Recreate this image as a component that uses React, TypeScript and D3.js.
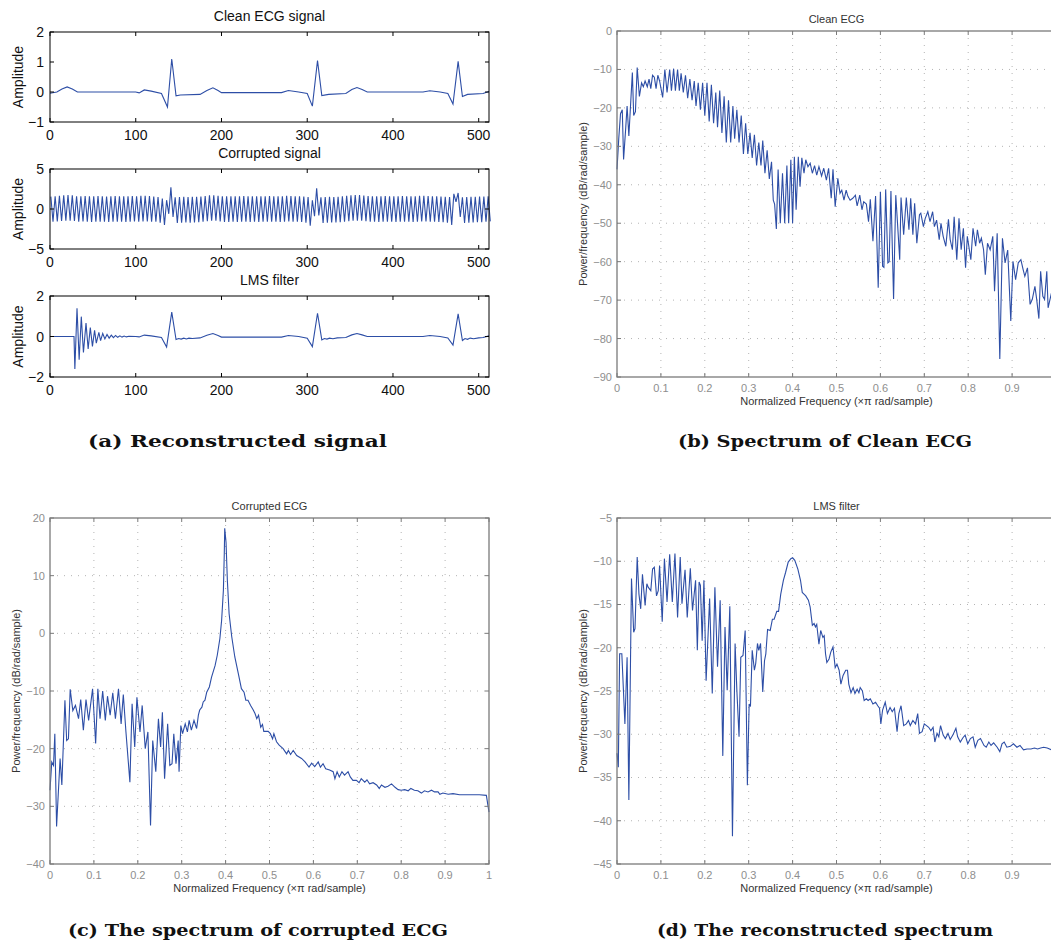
import React, { useEffect, useRef } from 'react';
import * as d3 from 'd3';

// ---------------- DATA ----------------
// (a) time-domain signals, sample index 0..512
const sampleTicks = [0, 100, 200, 300, 400, 500];

const cleanEcg: [number, number][] = [
  [0, -0.04], [8, 0.0], [14, 0.1], [20, 0.17], [26, 0.1], [32, 0.0], [100, 0.0], [104, -0.03], [110, 0.07], [118, 0.03],
  [130, -0.05], [137, -0.5], [142, 1.1], [147, -0.13], [152, -0.1], [175, -0.08], [183, 0.05], [190, 0.14], [196, 0.05],
  [200, -0.02], [270, -0.02], [278, 0.05], [290, 0.0], [300, -0.05], [306, -0.47], [312, 1.05], [317, -0.12], [325, -0.08],
  [345, -0.05], [352, 0.08], [358, 0.15], [364, 0.08], [370, 0.0], [435, 0.0], [443, 0.04], [455, 0.0], [464, -0.05],
  [470, -0.4], [476, 1.02], [481, -0.15], [487, -0.08], [505, -0.05], [512, 0.02],
];

// corrupted signal: successive half-cycle extrema, one every 2.5 samples starting at sample 1
const corruptedStart = 1;
const corruptedStep = 2.5;
const corruptedExtrema = [
  1.55, -1.6, 1.6, -1.55, 1.65, -1.5, 1.7, -1.45, 1.75, -1.45,
  1.7, -1.5, 1.6, -1.6, 1.6, -1.55, 1.62, -1.6, 1.58, -1.62,
  1.6, -1.6, 1.63, -1.58, 1.6, -1.6, 1.57, -1.63, 1.6, -1.6,
  1.62, -1.58, 1.6, -1.6, 1.58, -1.62, 1.6, -1.6, 1.63, -1.57,
  1.6, -1.6, 1.65, -1.55, 1.66, -1.55, 1.62, -1.58, 1.55, -1.6,
  1.5, -1.7, 1.3, -2.0, 1.1, -0.6, 2.7, -1.0, 1.45, -1.75,
  1.5, -1.7, 1.52, -1.68, 1.5, -1.7, 1.53, -1.68, 1.52, -1.66,
  1.55, -1.6, 1.62, -1.52, 1.7, -1.46, 1.72, -1.47, 1.65, -1.55,
  1.6, -1.62, 1.58, -1.62, 1.6, -1.6, 1.58, -1.62, 1.6, -1.6,
  1.62, -1.6, 1.58, -1.62, 1.6, -1.6, 1.6, -1.62, 1.58, -1.6,
  1.6, -1.6, 1.62, -1.58, 1.6, -1.6, 1.58, -1.62, 1.6, -1.58,
  1.65, -1.55, 1.63, -1.58, 1.6, -1.6, 1.58, -1.62, 1.55, -1.7,
  1.5, -2.1, 1.1, -0.9, 2.6, -0.8, 1.45, -1.75, 1.5, -1.7,
  1.52, -1.68, 1.5, -1.67, 1.54, -1.66, 1.58, -1.6, 1.65, -1.52,
  1.72, -1.47, 1.75, -1.45, 1.74, -1.47, 1.68, -1.52, 1.62, -1.58,
  1.6, -1.6, 1.58, -1.62, 1.6, -1.6, 1.62, -1.58, 1.6, -1.6,
  1.58, -1.62, 1.6, -1.6, 1.62, -1.6, 1.6, -1.58, 1.6, -1.62,
  1.58, -1.6, 1.64, -1.56, 1.65, -1.56, 1.62, -1.6, 1.6, -1.6,
  1.58, -1.62, 1.55, -1.65, 1.52, -1.7, 1.5, -2.0, 1.9, 0.9,
  2.0, -1.0, 1.45, -1.75, 1.5, -1.7, 1.52, -1.68, 1.52, -1.66,
  1.55, -1.65, 1.55, -1.6, 1.6, -1.55,
];

const lmsOutput: [number, number][] = [
  [0, 0], [28, 0], [29, -1.6], [31.5, 1.4], [34, -1.15], [36.5, 0.98], [39, -0.79], [42, 0.66], [44.5, -0.62], [47, 0.44],
  [49.5, -0.49], [52, 0.3], [54, -0.33], [57, 0.2], [59, -0.2], [61.5, 0.15], [64, -0.12], [66.5, 0.1], [69, -0.08],
  [71.5, 0.07], [74, -0.06], [76.5, 0.05], [79, -0.04], [81.5, 0.03], [84, -0.03], [86.5, 0.02], [89, -0.02], [92, 0.01],
  [100, 0], [104, -0.02], [110, 0.07], [118, 0.03], [130, -0.05], [136, -0.52], [142, 1.2], [147, -0.15], [150, -0.1],
  [153, -0.13], [156, -0.08], [159, -0.12], [162, -0.08], [166, -0.1], [175, -0.07], [183, 0.06], [190, 0.15], [196, 0.05],
  [200, -0.03], [270, -0.03], [278, 0.05], [290, 0], [300, -0.08], [306, -0.5], [312, 1.15], [317, -0.17], [320, -0.1],
  [323, -0.13], [326, -0.08], [330, -0.11], [335, -0.07], [345, -0.05], [352, 0.08], [358, 0.15], [364, 0.08], [370, 0],
  [435, 0], [443, 0.05], [455, 0], [464, -0.07], [470, -0.42], [476, 1.12], [481, -0.2], [484, -0.1], [487, -0.14],
  [490, -0.08], [494, -0.11], [500, -0.07], [505, -0.05], [512, 0.03],
];

// spectra: [normalized frequency (x pi rad/sample), dB/rad/sample]
const freqTicks = [0, 0.1, 0.2, 0.3, 0.4, 0.5, 0.6, 0.7, 0.8, 0.9, 1];

const cleanSpectrum: [number, number][] = [
  [0, -36], [0.004, -28], [0.008, -21.5], [0.012, -20.5], [0.015, -33.4], [0.02, -25], [0.023, -19.5], [0.027, -27.3],
  [0.035, -10.8], [0.038, -22], [0.042, -21], [0.046, -9.5], [0.051, -17], [0.056, -13.5], [0.06, -14.5], [0.064, -13],
  [0.069, -14.5], [0.073, -12.5], [0.077, -15], [0.081, -11.5], [0.085, -12], [0.089, -15], [0.093, -11.5], [0.097, -13],
  [0.104, -17.3], [0.109, -10], [0.114, -16], [0.12, -10], [0.124, -15.5], [0.129, -9.8], [0.133, -15.5], [0.138, -10],
  [0.142, -15.5], [0.146, -11], [0.151, -16], [0.156, -11.5], [0.161, -17.5], [0.166, -12.5], [0.171, -18], [0.176, -13],
  [0.18, -19.5], [0.185, -13.5], [0.19, -20.5], [0.195, -13.5], [0.2, -22], [0.205, -13.5], [0.21, -23.5], [0.215, -14],
  [0.22, -24], [0.225, -16], [0.229, -25], [0.234, -15.5], [0.239, -26.5], [0.244, -17], [0.249, -29], [0.254, -18],
  [0.259, -29], [0.264, -19.5], [0.268, -28], [0.273, -20.5], [0.278, -29], [0.283, -22], [0.288, -32], [0.293, -24],
  [0.298, -32], [0.303, -26.5], [0.308, -33], [0.313, -27], [0.318, -35], [0.323, -29], [0.328, -35], [0.332, -28.5],
  [0.337, -37], [0.342, -31], [0.347, -38.5], [0.352, -34], [0.356, -44], [0.359, -45], [0.363, -51.5], [0.367, -36],
  [0.372, -50], [0.377, -37], [0.382, -50], [0.387, -35], [0.391, -50], [0.396, -33.5], [0.4, -50], [0.404, -32.7],
  [0.408, -46.5], [0.413, -32.7], [0.417, -40.5], [0.421, -33], [0.426, -37], [0.43, -33.5], [0.435, -35.3], [0.44, -34.4],
  [0.445, -37], [0.45, -35], [0.455, -37.5], [0.46, -35.3], [0.466, -37.7], [0.471, -35.7], [0.477, -38.8], [0.482, -35.7],
  [0.488, -43.5], [0.492, -36], [0.497, -45.7], [0.503, -38.3], [0.508, -42.2], [0.512, -41.4], [0.517, -44], [0.522, -41.4],
  [0.526, -43], [0.531, -44], [0.537, -43.5], [0.543, -42.7], [0.547, -45.5], [0.553, -42.7], [0.558, -46.5], [0.562, -44.4],
  [0.568, -45], [0.573, -49.6], [0.577, -43.8], [0.583, -54.7], [0.589, -42.9], [0.595, -66.8], [0.6, -41.8], [0.605, -61.2],
  [0.608, -61.5], [0.612, -41.2], [0.617, -60.3], [0.62, -60], [0.624, -41.6], [0.63, -69.7], [0.635, -42.7], [0.639, -50],
  [0.644, -59.5], [0.647, -43.3], [0.653, -53], [0.659, -43.3], [0.665, -51.7], [0.669, -43.5], [0.674, -53], [0.678, -44.8],
  [0.683, -55.2], [0.689, -47.8], [0.692, -47.4], [0.698, -50.9], [0.702, -48.8], [0.708, -47], [0.713, -49.6], [0.719, -47],
  [0.723, -50.9], [0.728, -49.2], [0.734, -54.3], [0.738, -50], [0.743, -53.4], [0.749, -56], [0.755, -49], [0.759, -54.3],
  [0.764, -56.9], [0.768, -48.3], [0.774, -59.5], [0.779, -48.7], [0.784, -56.9], [0.789, -51.3], [0.794, -61.6], [0.798, -53.4],
  [0.806, -59.5], [0.811, -51.3], [0.817, -56], [0.821, -51.7], [0.826, -55.2], [0.83, -53.9], [0.835, -56.9], [0.839, -63.4],
  [0.844, -55.2], [0.85, -56.9], [0.856, -53.4], [0.86, -67.7], [0.866, -52.6], [0.872, -85.3], [0.878, -53.9], [0.884, -60.3],
  [0.89, -57], [0.897, -75.4], [0.902, -59.9], [0.908, -64.7], [0.914, -60.3], [0.92, -59.5], [0.925, -62], [0.929, -63.8],
  [0.935, -61.6], [0.941, -71.1], [0.946, -69.8], [0.952, -66.4], [0.956, -69.8], [0.961, -74.8], [0.965, -62.5], [0.97, -69],
  [0.974, -69.8], [0.979, -62.5], [0.982, -72], [0.99, -68], [1, -70],
];

const corruptedSpectrum: [number, number][] = [
  [0, -27.2], [0.004, -22.3], [0.008, -22.9], [0.011, -17.4], [0.015, -33.5], [0.023, -21.7], [0.027, -26.3], [0.034, -11.6],
  [0.038, -18.6], [0.042, -18.3], [0.046, -9.7], [0.052, -13.4], [0.058, -12.5], [0.065, -14.8], [0.07, -11.5], [0.076, -16.8],
  [0.082, -11.5], [0.088, -15.1], [0.097, -9.6], [0.104, -19.1], [0.109, -9.6], [0.114, -14.8], [0.12, -10], [0.126, -15.1],
  [0.131, -10.9], [0.137, -14.2], [0.143, -10.3], [0.149, -14.8], [0.156, -9.6], [0.162, -15.7], [0.167, -10.6], [0.173, -17.1],
  [0.182, -25.8], [0.187, -12.2], [0.193, -19.7], [0.198, -11.1], [0.205, -17.1], [0.21, -12.5], [0.217, -20], [0.223, -17.1],
  [0.229, -33.3], [0.234, -18.6], [0.241, -24], [0.247, -14.8], [0.252, -19.7], [0.256, -13.7], [0.261, -25.2], [0.268, -15.7],
  [0.273, -22.9], [0.278, -22.6], [0.282, -17.4], [0.287, -22.6], [0.292, -18.6], [0.294, -24], [0.298, -16], [0.302, -17.4],
  [0.308, -15.7], [0.313, -17.1], [0.317, -15.1], [0.322, -16.8], [0.328, -15.1], [0.334, -16.5], [0.338, -14.2], [0.341, -13.3],
  [0.346, -12.8], [0.349, -11.9], [0.353, -11.6], [0.357, -10.2], [0.363, -9.3], [0.368, -7.6], [0.376, -5.6], [0.381, -3.8],
  [0.387, -0.9], [0.391, 2.3], [0.395, 7.5], [0.397, 13.8], [0.398, 18.2], [0.401, 15.8], [0.404, 9.2], [0.408, 3.4],
  [0.414, -0.6], [0.421, -4.1], [0.429, -7], [0.436, -9.6], [0.442, -10.2], [0.446, -11.6], [0.451, -11.6], [0.457, -12.5],
  [0.463, -13.3], [0.467, -13.9], [0.471, -14.8], [0.475, -14.2], [0.48, -16.3], [0.484, -15.8], [0.487, -17], [0.497, -17],
  [0.502, -17.4], [0.507, -18.3], [0.51, -17.4], [0.516, -18.8], [0.522, -19.4], [0.531, -20], [0.539, -20.9], [0.543, -20.3],
  [0.548, -21], [0.554, -20.3], [0.562, -21.2], [0.573, -21.7], [0.581, -22.3], [0.59, -23.2], [0.596, -22.5], [0.603, -23.1],
  [0.611, -22.3], [0.616, -23.2], [0.622, -22.6], [0.628, -23.5], [0.637, -23.7], [0.645, -24], [0.649, -25.2], [0.654, -24],
  [0.659, -24.9], [0.665, -24], [0.671, -24.6], [0.679, -24], [0.684, -24.9], [0.69, -25.5], [0.698, -25.5], [0.704, -25.9],
  [0.709, -25.2], [0.717, -25.8], [0.722, -25.4], [0.728, -26.1], [0.736, -25.9], [0.744, -26.3], [0.75, -26.9], [0.755, -26.3],
  [0.763, -26.7], [0.77, -26.5], [0.778, -26.1], [0.786, -26.7], [0.793, -27.1], [0.8, -27.2], [0.808, -27.1], [0.816, -27.3],
  [0.822, -26.9], [0.83, -27.2], [0.838, -27.3], [0.846, -27.7], [0.853, -27.3], [0.861, -27.5], [0.869, -27.2], [0.876, -27.5],
  [0.884, -27.5], [0.888, -27.9], [0.895, -27.7], [0.907, -27.9], [0.918, -27.8], [0.933, -28], [0.948, -28], [0.963, -28],
  [0.978, -28], [0.994, -28.1], [1, -31],
];

const lmsSpectrum: [number, number][] = [
  [0, -32.2], [0.003, -33.8], [0.006, -20.7], [0.011, -20.7], [0.018, -28.8], [0.023, -21.1], [0.027, -37.6], [0.033, -12],
  [0.038, -18.2], [0.041, -17.8], [0.046, -9.5], [0.05, -13.8], [0.054, -15.5], [0.058, -11.5], [0.064, -15.1], [0.068, -12.6],
  [0.071, -13], [0.077, -13.4], [0.081, -10.9], [0.085, -10.7], [0.09, -14], [0.094, -13.4], [0.097, -10.5], [0.103, -17],
  [0.108, -9.7], [0.114, -14.7], [0.12, -9.2], [0.126, -14.7], [0.132, -9.1], [0.138, -16.5], [0.144, -9.5], [0.148, -14.9],
  [0.155, -11], [0.16, -16.5], [0.167, -10.8], [0.172, -15.7], [0.179, -12.2], [0.183, -20.3], [0.187, -12.4], [0.19, -12.8],
  [0.194, -19.2], [0.198, -12.2], [0.203, -23.8], [0.211, -14.3], [0.217, -25.3], [0.223, -13], [0.229, -22.2], [0.235, -14.5],
  [0.241, -32.5], [0.246, -17.6], [0.251, -24.9], [0.257, -15.2], [0.263, -41.8], [0.269, -19.5], [0.273, -24.9], [0.278, -30.3],
  [0.282, -21.1], [0.287, -20.9], [0.292, -18], [0.297, -35.9], [0.301, -26.5], [0.304, -26.8], [0.308, -20.3], [0.313, -22.6],
  [0.316, -21.8], [0.32, -19.5], [0.323, -20.3], [0.327, -19.5], [0.332, -25.1], [0.336, -21.5], [0.339, -20.7], [0.343, -17.9],
  [0.349, -18], [0.354, -16.7], [0.358, -16.7], [0.364, -15.8], [0.368, -15.8], [0.373, -13.8], [0.379, -12.2], [0.384, -11.3],
  [0.39, -10.1], [0.396, -9.7], [0.4, -9.6], [0.405, -9.9], [0.412, -10.9], [0.418, -12.2], [0.422, -13.6], [0.426, -13.8],
  [0.43, -14], [0.436, -14.5], [0.44, -15.3], [0.445, -17.4], [0.449, -17.2], [0.452, -17.6], [0.455, -17.3], [0.46, -19.6],
  [0.464, -18], [0.469, -18.8], [0.472, -18.6], [0.475, -20.7], [0.478, -21.7], [0.483, -21.3], [0.487, -20.5], [0.492, -19.9],
  [0.497, -22.3], [0.501, -21.9], [0.506, -22.6], [0.51, -24.2], [0.515, -23.2], [0.521, -22.6], [0.525, -22.6], [0.528, -24.2],
  [0.533, -25.2], [0.538, -24.6], [0.542, -25.3], [0.547, -24.8], [0.551, -25.2], [0.554, -24.6], [0.559, -25], [0.563, -26.1],
  [0.568, -25.9], [0.572, -26.1], [0.577, -25.9], [0.583, -26.5], [0.589, -26.3], [0.594, -26.7], [0.598, -27], [0.601, -28.8],
  [0.605, -27.2], [0.611, -26.3], [0.616, -27.6], [0.622, -26.9], [0.627, -27.4], [0.632, -27], [0.638, -29.7], [0.642, -27.6],
  [0.647, -26.7], [0.653, -29], [0.659, -28.8], [0.664, -28.4], [0.668, -29], [0.674, -28.4], [0.68, -28.8], [0.685, -27.6],
  [0.689, -29.9], [0.695, -29.7], [0.7, -28.8], [0.705, -29], [0.71, -29.2], [0.715, -29.6], [0.72, -29.2], [0.724, -30.9],
  [0.729, -29.9], [0.733, -30.3], [0.737, -29], [0.743, -30.1], [0.748, -30.5], [0.754, -29.9], [0.759, -30.6], [0.765, -30.1],
  [0.772, -29.3], [0.776, -30.3], [0.782, -30.9], [0.788, -30.4], [0.793, -30.1], [0.799, -31.1], [0.805, -30.5], [0.811, -30.3],
  [0.816, -31.5], [0.822, -30.7], [0.828, -30.5], [0.836, -31.3], [0.841, -31.5], [0.847, -30.9], [0.852, -31.3], [0.858, -31],
  [0.866, -31.5], [0.872, -32], [0.877, -31.1], [0.882, -30.9], [0.888, -31.5], [0.896, -31.4], [0.903, -31.1], [0.911, -31.5],
  [0.918, -31.3], [0.926, -31.8], [0.934, -31.7], [0.943, -31.7], [0.951, -31.6], [0.958, -31.7], [0.965, -31.6], [0.972, -31.5],
  [0.98, -31.6], [0.99, -31.8], [1, -31.9],
];

const cleanDbTicks = [0, -10, -20, -30, -40, -50, -60, -70, -80, -90];
const corruptedDbTicks = [20, 10, 0, -10, -20, -30, -40];
const lmsDbTicks = [-5, -10, -15, -20, -25, -30, -35, -40, -45];

// ---------------- DRAWING ----------------
const W = 1051;
const H = 945;
const LINE = '#2d4ea6';
const SANS = '"Liberation Sans", Arial, Helvetica, sans-serif';
const SERIF = '"DejaVu Serif", "Liberation Serif", serif';

const fmt = (v: number) => (v < 0 ? '\u2212' + String(Math.abs(v)) : String(v));

type Sel = d3.Selection<SVGGElement, unknown, null, undefined>;

function drawSignal(
  g: Sel,
  box: { left: number; top: number; width: number; height: number },
  yDomain: [number, number],
  yTicks: number[],
  title: string,
  points: [number, number][],
) {
  const x = d3.scaleLinear().domain([0, 512]).range([box.left, box.left + box.width]);
  const y = d3.scaleLinear().domain(yDomain).range([box.top + box.height, box.top]);
  const bottom = box.top + box.height;
  const right = box.left + box.width;

  const line = d3.line<[number, number]>().x((d) => x(d[0])).y((d) => y(d[1]));
  g.append('path').attr('d', line(points) || '').attr('fill', 'none').attr('stroke', LINE).attr('stroke-width', 1.1);

  g.append('rect')
    .attr('x', box.left).attr('y', box.top).attr('width', box.width).attr('height', box.height)
    .attr('fill', 'none').attr('stroke', '#000').attr('stroke-width', 1);

  sampleTicks.forEach((t) => {
    g.append('line').attr('x1', x(t)).attr('x2', x(t)).attr('y1', bottom).attr('y2', bottom - 4).attr('stroke', '#000');
    g.append('line').attr('x1', x(t)).attr('x2', x(t)).attr('y1', box.top).attr('y2', box.top + 4).attr('stroke', '#000');
    g.append('text').attr('x', x(t)).attr('y', bottom + 18).attr('text-anchor', 'middle')
      .attr('font-family', SANS).attr('font-size', 14).attr('fill', '#111').text(fmt(t));
  });
  yTicks.forEach((t) => {
    g.append('line').attr('x1', box.left).attr('x2', box.left + 4).attr('y1', y(t)).attr('y2', y(t)).attr('stroke', '#000');
    g.append('line').attr('x1', right).attr('x2', right - 4).attr('y1', y(t)).attr('y2', y(t)).attr('stroke', '#000');
    g.append('text').attr('x', box.left - 6).attr('y', y(t)).attr('dy', '0.36em').attr('text-anchor', 'end')
      .attr('font-family', SANS).attr('font-size', 14).attr('fill', '#111').text(fmt(t));
  });
  g.append('text').attr('x', box.left + box.width / 2).attr('y', box.top - 11).attr('text-anchor', 'middle')
    .attr('font-family', SANS).attr('font-size', 14).attr('fill', '#111').text(title);
  g.append('text')
    .attr('transform', `translate(${box.left - 27},${box.top + box.height / 2}) rotate(-90)`)
    .attr('text-anchor', 'middle').attr('font-family', SANS).attr('font-size', 14).attr('fill', '#111').text('Amplitude');
}

function drawSpectrum(
  g: Sel,
  box: { left: number; top: number; width: number; height: number },
  yDomain: [number, number],
  yTicks: number[],
  title: string,
  points: [number, number][],
) {
  const x = d3.scaleLinear().domain([0, 1]).range([box.left, box.left + box.width]);
  const y = d3.scaleLinear().domain(yDomain).range([box.top + box.height, box.top]);
  const bottom = box.top + box.height;
  const right = box.left + box.width;
  const grid = '#b4b4b4';
  const axisC = '#7a7a7a';
  const tickC = '#8e8e8e';

  // grid
  freqTicks.forEach((t) => {
    if (t === 0 || t === 1) return;
    g.append('line').attr('x1', x(t)).attr('x2', x(t)).attr('y1', box.top).attr('y2', bottom)
      .attr('stroke', grid).attr('stroke-width', 1).attr('stroke-dasharray', '1,6');
  });
  yTicks.forEach((t) => {
    if (t === yDomain[0] || t === yDomain[1]) return;
    g.append('line').attr('x1', box.left).attr('x2', right).attr('y1', y(t)).attr('y2', y(t))
      .attr('stroke', grid).attr('stroke-width', 1).attr('stroke-dasharray', '1,6');
  });

  const line = d3.line<[number, number]>().x((d) => x(d[0])).y((d) => y(d[1]));
  g.append('path').attr('d', line(points) || '').attr('fill', 'none').attr('stroke', LINE).attr('stroke-width', 1.1);

  g.append('rect')
    .attr('x', box.left).attr('y', box.top).attr('width', box.width).attr('height', box.height)
    .attr('fill', 'none').attr('stroke', axisC).attr('stroke-width', 1.3);

  freqTicks.forEach((t) => {
    g.append('line').attr('x1', x(t)).attr('x2', x(t)).attr('y1', bottom).attr('y2', bottom - 4).attr('stroke', axisC);
    g.append('line').attr('x1', x(t)).attr('x2', x(t)).attr('y1', box.top).attr('y2', box.top + 4).attr('stroke', axisC);
    // the figure is cropped at the page edge: labels that would fall outside are not shown
    if (x(t) + 4 > W) return;
    g.append('text').attr('x', x(t)).attr('y', bottom + 15).attr('text-anchor', 'middle')
      .attr('font-family', SANS).attr('font-size', 11).attr('fill', tickC).text(fmt(t));
  });
  yTicks.forEach((t) => {
    g.append('line').attr('x1', box.left).attr('x2', box.left + 4).attr('y1', y(t)).attr('y2', y(t)).attr('stroke', axisC);
    g.append('line').attr('x1', right).attr('x2', right - 4).attr('y1', y(t)).attr('y2', y(t)).attr('stroke', axisC);
    g.append('text').attr('x', box.left - 5).attr('y', y(t)).attr('dy', '0.36em').attr('text-anchor', 'end')
      .attr('font-family', SANS).attr('font-size', 11).attr('fill', tickC).text(fmt(t));
  });

  g.append('text').attr('x', box.left + box.width / 2).attr('y', box.top - 8).attr('text-anchor', 'middle')
    .attr('font-family', SANS).attr('font-size', 11).attr('fill', '#333').text(title);
  g.append('text').attr('x', box.left + box.width / 2).attr('y', bottom + 28).attr('text-anchor', 'middle')
    .attr('font-family', SANS).attr('font-size', 11).attr('fill', '#333').text('Normalized Frequency (\u00d7\u03c0 rad/sample)');
  g.append('text')
    .attr('transform', `translate(${box.left - 30},${box.top + box.height / 2}) rotate(-90)`)
    .attr('text-anchor', 'middle').attr('font-family', SANS).attr('font-size', 11).attr('fill', '#333')
    .text('Power/frequency (dB/rad/sample)');
}

function caption(g: Sel, x: number, y: number, w: number, text: string) {
  g.append('text').attr('x', x).attr('y', y).attr('font-family', SERIF).attr('font-weight', 'bold')
    .attr('font-size', 17).attr('fill', '#111').attr('textLength', w).attr('lengthAdjust', 'spacingAndGlyphs').text(text);
}

export default function App() {
  const ref = useRef<SVGSVGElement | null>(null);

  useEffect(() => {
    if (!ref.current) return;
    const svg = d3.select(ref.current);
    svg.selectAll('*').remove();
    const g = svg.append('g') as unknown as Sel;

    const corruptedPoints: [number, number][] = corruptedExtrema.map((v, i) => [corruptedStart + corruptedStep * i, v]);

    drawSignal(g, { left: 50, top: 32, width: 439, height: 90 }, [-1, 2], [-1, 0, 1, 2], 'Clean ECG signal', cleanEcg);
    drawSignal(g, { left: 50, top: 169, width: 439, height: 80 }, [-5, 5], [-5, 0, 5], 'Corrupted signal', corruptedPoints);
    drawSignal(g, { left: 50, top: 296, width: 439, height: 81 }, [-2, 2], [-2, 0, 2], 'LMS filter', lmsOutput);

    drawSpectrum(g, { left: 617, top: 31, width: 439, height: 346 }, [-90, 0], cleanDbTicks, 'Clean ECG', cleanSpectrum);
    drawSpectrum(g, { left: 50, top: 518, width: 439, height: 346 }, [-40, 20], corruptedDbTicks, 'Corrupted ECG', corruptedSpectrum);
    drawSpectrum(g, { left: 617, top: 518, width: 439, height: 346 }, [-45, -5], lmsDbTicks, 'LMS filter', lmsSpectrum);

    caption(g, 88, 447, 299, '(a) Reconstructed signal');
    caption(g, 678, 447, 294, '(b) Spectrum of Clean ECG');
    caption(g, 68, 936, 380, '(c) The spectrum of corrupted ECG');
    caption(g, 657, 936, 336, '(d) The reconstructed spectrum');
  }, []);

  return (
    <svg
      ref={ref}
      width={W}
      height={H}
      style={{ position: 'absolute', left: 0, top: 0, background: '#fff', overflow: 'hidden' }}
    />
  );
}
